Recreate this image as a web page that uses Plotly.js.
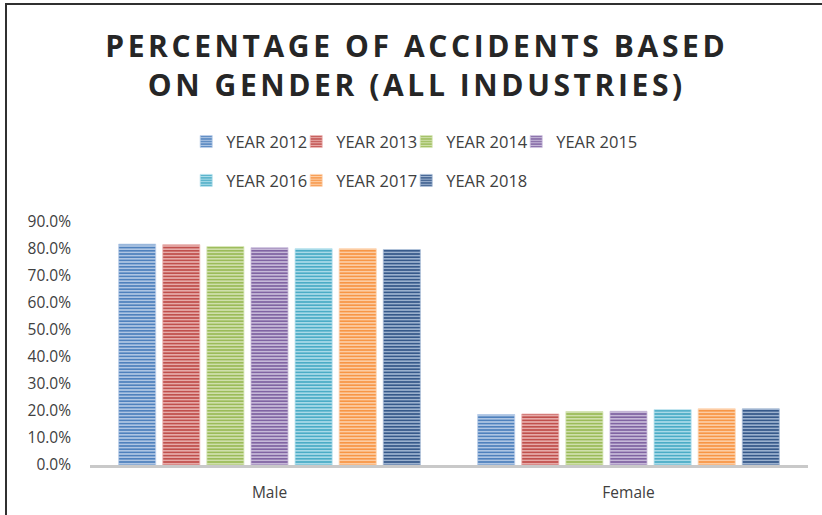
<!DOCTYPE html>
<html>
<head>
<meta charset="utf-8">
<script src="https://cdn.plot.ly/plotly-3.0.1.min.js"></script>
<style>
  html, body { margin: 0; padding: 0; background: #fff; }
  #wrap { position: relative; width: 822px; height: 515px; overflow: hidden; }
  #chart { position: absolute; left: 0; top: 0; width: 822px; height: 515px; }
  #frame { position: absolute; left: 5px; top: 3px; width: 830px; height: 530px;
           border-left: 2px solid #303030; border-top: 2px solid #303030; pointer-events: none; }
</style>
</head>
<body>
<div id="wrap"><div id="chart"></div><div id="frame"></div></div>
<script>
const categories = ["Male", "Female"];
const seriesNames = ["YEAR 2012", "YEAR 2013", "YEAR 2014", "YEAR 2015", "YEAR 2016", "YEAR 2017", "YEAR 2018"];
const year2012 = [0.818, 0.187];
const year2013 = [0.816, 0.189];
const year2014 = [0.809, 0.198];
const year2015 = [0.805, 0.199];
const year2016 = [0.801, 0.205];
const year2017 = [0.801, 0.208];
const year2018 = [0.798, 0.208];
const seriesValues = [year2012, year2013, year2014, year2015, year2016, year2017, year2018];
const yTickValues = [0, 0.1, 0.2, 0.3, 0.4, 0.5, 0.6, 0.7, 0.8, 0.9];

const baseColors = ["#4F81BD", "#C0504D", "#9BBB59", "#8064A2", "#4BACC6", "#F79646", "#36598A"];
const lightColors = ["#B9CDE8", "#EBB4B2", "#D5E4B5", "#CEC2DE", "#B3E0EC", "#FDD3AE", "#A7BBD6"];

// one legend per entry so the two-row legend wraps exactly like the reference
const legendIds = seriesNames.map((_, i) => i === 0 ? "legend" : "legend" + (i + 1));

const traces = seriesNames.map((name, i) => ({
  type: "bar",
  name: name,
  x: categories,
  y: seriesValues[i],
  legend: legendIds[i],
  marker: {
    color: baseColors[i],
    line: { color: lightColors[i], width: 0.8 },
    pattern: { shape: "-", size: 3.2, solidity: 0.45, fgcolor: lightColors[i], bgcolor: baseColors[i], fillmode: "replace" }
  },
  hoverinfo: "none"
}));

const legendCommon = {
  orientation: "h",
  xanchor: "left",
  yanchor: "middle",
  font: { family: "Open Sans, sans-serif", size: 16.5, color: "#404040" },
  bgcolor: "rgba(0,0,0,0)",
  itemwidth: 30
};
const plotW = 718;
const lx = 0.134;
const rowY = [1.33, 1.17];
const perRow = 4;
const itemStep = 110;

const layout = {
  width: 822,
  height: 515,
  margin: { l: 90, r: 14, t: 222, b: 50 },
  paper_bgcolor: "#ffffff",
  plot_bgcolor: "#ffffff",
  title: {
    text: '<span style="letter-spacing:3.6px">PERCENTAGE OF ACCIDENTS BASED</span><br><span style="letter-spacing:3.6px">ON GENDER (ALL INDUSTRIES)</span>',
    font: { family: "Open Sans, sans-serif", size: 30, weight: 700, color: "#262626" },
    x: 0.507, xref: "container", xanchor: "center",
    y: 0.889, yref: "container", yanchor: "middle"
  },
  barmode: "group",
  bargap: 0.14,
  bargroupgap: 0.16,
  showlegend: true,
  xaxis: {
    type: "category",
    showgrid: false,
    showline: true,
    linecolor: "#C9C9C9",
    linewidth: 3,
    ticks: "",
    tickfont: { family: "Open Sans, sans-serif", size: 15.5, color: "#404040" },
    ticklabelstandoff: 11,
    zeroline: false
  },
  yaxis: {
    range: [0, 0.9],
    tickvals: yTickValues,
    tickformat: ".1%",
    showgrid: false,
    showline: false,
    zeroline: false,
    ticks: "",
    tickfont: { family: "Open Sans, sans-serif", size: 15.5, color: "#404040" },
    ticklabelstandoff: 18
  }
};
legendIds.forEach((id, i) => {
  const col = i % perRow, row = Math.floor(i / perRow);
  layout[id] = Object.assign({}, legendCommon, { x: lx + col * itemStep / plotW, y: rowY[row] });
});

Plotly.newPlot("chart", traces, layout, { displayModeBar: false, staticPlot: true });
</script>
</body>
</html>
